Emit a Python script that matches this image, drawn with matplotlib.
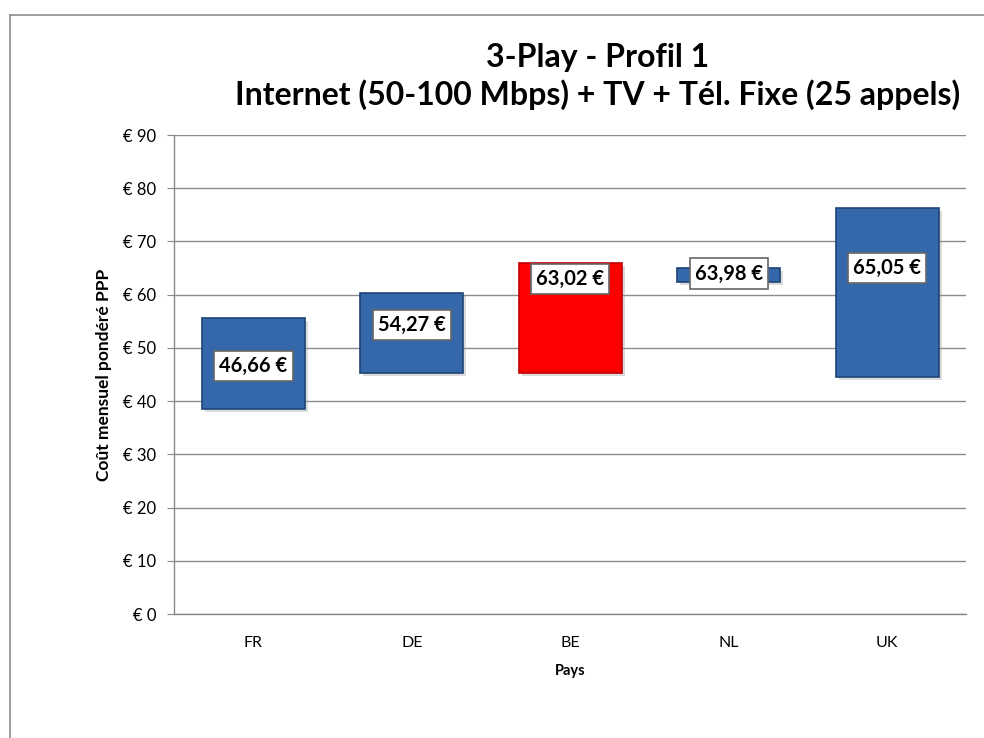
import matplotlib
matplotlib.use("Agg")
import matplotlib.pyplot as plt
from matplotlib.lines import Line2D
from matplotlib.ticker import FuncFormatter

pays = ["FR", "DE", "BE", "NL", "UK"]
cout_min = [38.5, 45.3, 45.3, 62.4, 44.5]
cout_max = [55.6, 60.3, 66.0, 65.0, 76.3]
cout_moyen = [46.66, 54.27, 63.02, 63.98, 65.05]
labels = ["46,66 €", "54,27 €", "63,02 €", "63,98 €", "65,05 €"]
couleurs = ["#3567ab", "#3567ab", "#ff0000", "#3567ab", "#3567ab"]
bords = ["#1f4477", "#1f4477", "#c00000", "#1f4477", "#1f4477"]

plt.rcParams["font.family"] = ["Lato", "DejaVu Sans"]

fig = plt.figure(figsize=(9.84, 7.38), dpi=100)
ax = fig.add_axes([0.177, 0.168, 0.805, 0.649])

x = list(range(len(pays)))
hauteurs = [hi - lo for lo, hi in zip(cout_min, cout_max)]
# ombre
ax.bar([xi + 0.02 for xi in x], hauteurs, 0.65, bottom=[lo - 0.6 for lo in cout_min],
       color="#999999", alpha=0.35, zorder=2, linewidth=0)
ax.bar(x, hauteurs, 0.65, bottom=cout_min, color=couleurs, edgecolor=bords,
       linewidth=1.2, zorder=3)

for xi, v, lab in zip(x, cout_moyen, labels):
    ax.text(xi, v, lab, ha="center", va="center", fontsize=14.5,
            fontweight="bold", color="black", zorder=5,
            bbox=dict(boxstyle="square,pad=0.25", facecolor="white",
                      edgecolor="#666666", linewidth=1.2))

ax.set_xlim(-0.5, len(pays) - 0.5)
ax.set_ylim(0, 90)
ax.set_yticks(range(0, 91, 10))
ax.yaxis.set_major_formatter(FuncFormatter(lambda v, p: f"€ {int(v)}"))
ax.set_xticks(x)
ax.set_xticklabels(pays)
ax.tick_params(axis="y", direction="out", length=5, color="#888888",
               labelsize=12, pad=8)
ax.tick_params(axis="x", length=0, labelsize=11.5, pad=16)
ax.grid(axis="y", color="#8c8c8c", linewidth=1)
ax.set_axisbelow(True)
for s in ("top", "right"):
    ax.spines[s].set_visible(False)
for s in ("left", "bottom"):
    ax.spines[s].set_color("#888888")
    ax.spines[s].set_linewidth(1)

ax.set_ylabel("Coût mensuel pondéré PPP", fontsize=12.5, fontweight="bold",
              labelpad=8)
ax.set_xlabel("Pays", fontsize=10.5, fontweight="bold", labelpad=10)

fig.text(0.607, 0.896, "3-Play - Profil 1\nInternet (50-100 Mbps) + TV + Tél. Fixe (25 appels)",
         ha="center", va="center", fontsize=23, fontweight="bold",
         linespacing=1.3)

# bordure de la zone du graphique
fig.add_artist(Line2D([10 / 984, 1.0], [1 - 15 / 738, 1 - 15 / 738],
                      transform=fig.transFigure, color="#8c8c8c", linewidth=1.2))
fig.add_artist(Line2D([10 / 984, 10 / 984], [0.0, 1 - 15 / 738],
                      transform=fig.transFigure, color="#8c8c8c", linewidth=1.2))

fig.savefig("out.png", dpi=100)
